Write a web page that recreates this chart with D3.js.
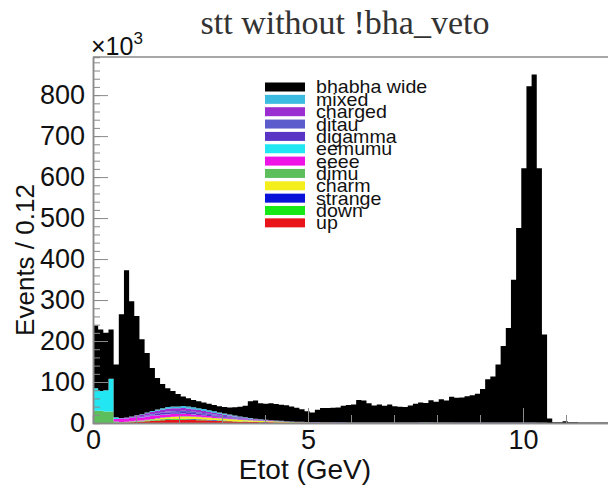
<!DOCTYPE html>
<html>
<head>
<meta charset="utf-8">
<script src="https://cdn.jsdelivr.net/npm/d3@7"></script>
<style>
  body { margin: 0; background: #fff; }
  text { font-family: "Liberation Sans", Arial, sans-serif; }
</style>
</head>
<body>
<div id="vis"></div>
<script>
// Etot histogram, 100 bins of 0.12 GeV from 0 to 12, values in units of 10^3 events
const binWidth = 0.12;
const nBins = 100;

// stacked bottom -> top
const up = [0,0,0,0,0.5,1,1.5,2,2.5,3,4,5,6,7,7.5,8,8,8,8,7.5,7,6.5,6,5.5,5,4.5,4,3.5,3,2.8,2.5,2.2,2,1.8,1.6,1.4,1.2,1,0.9,0.8,0.7,0.6,0.5,0.5,0.4,0.4,0.3,0.3,0.3,0.2];
const down = [0,0,0,0,0,0.2,0.3,0.5,0.7,0.9,1,1.2,1.4,1.5,1.5,1.5,1.5,1.5,1.4,1.3,1.2,1.1,1,0.9,0.8,0.7,0.6,0.5,0.5,0.4,0.4,0.3,0.3,0.3,0.2,0.2,0.2,0.2,0.1];
const strange = [0,0,0,0,0,0,0.1,0.2,0.3,0.4,0.5,0.6,0.7,0.8,0.9,1,1,1,1,1,0.9,0.9,0.8,0.7,0.7,0.6,0.5,0.5,0.4,0.4,0.3,0.3,0.2,0.2,0.2,0.1,0.1,0.1];
const charm = [0,0,0,0,0,0,0.2,0.4,0.7,1,1.5,2,2.5,3,3.5,4,4.5,5,5,5,5,5,4.8,4.6,4.4,4.2,4,3.8,3.5,3.2,3,2.8,2.5,2.2,2,1.8,1.5,1.2,1,0.8,0.6,0.5,0.4,0.3,0.2,0.2,0.1];
const dimu = [30,30,28,28,3,1,1,1,1,1,1,1,1,1,1,1,1,1,1,1,1,0.8,0.8,0.8,0.8,0.7,0.7,0.7,0.6,0.6,0.6,0.5,0.5,0.5,0.5,0.5,0.5,0.5,0.5,0.5,0.5,0.5,0.5,0.5,0.5,0.5,0.5,0.5,0.5,0.5,0.5,0.5,0.5,0.5,0.5,0.5,0.5,0.5,0.5,0.5,0.5,0.5,0.5,0.8,1,0.8,0.5,0.5,0.5,0.5];
const eeee = [0,0,0,0,6,8,8,8,8,8,8,8,7.5,7,7,6.5,6,6,5.5,5,4.5,4,3.5,3,2.5,2,1.8,1.5,1.2,1,0.8,0.6,0.5,0.4,0.3,0.2,0.2,0.1];
const eemumu = [55,48,52,80,4,1,0.5,0.5,0.5,0.5,0.5,0.5,0.5,0.5,0.5,0.5,0.4,0.4,0.3,0.3,0.2,0.2,0.1];
const digamma = [0,0,0,0,0,0,0.3,0.6,1,1.5,2,2.5,3,3.5,4,4,4,4,3.8,3.5,3.2,3,2.7,2.4,2.1,1.8,1.5,1.3,1.1,0.9,
  0.8,0.7,0.6,0.5,0.5,0.5,0.6,0.6,0.7,0.7,0.8,0.8,0.8,0.8,0.8,0.8,0.8,0.8,0.8,0.8,
  0.9,0.9,0.9,0.9,0.9,0.9,0.9,0.9,0.9,0.9,1,1,1,1,1,1,1,1,1,1,
  1,1,1,1,1,1.2,1.2,1.2,1.2,1.2,1.2,1.2,1,1,1,1,0.8,0.5];
const ditau = [0,0,0,0,0,0,0,0.2,0.4,0.6,0.9,1.2,1.5,1.8,2.1,2.4,2.6,2.8,3,3,3,3,2.9,2.8,2.7,2.6,2.4,2.2,2,1.8,1.6,1.4,1.2,1,0.9,0.8,0.7,0.6,0.5,0.4,0.3,0.3,0.2,0.2,0.1];
const charged = [0,0,0,0,0.5,1,1.5,2,3,3.5,4.5,5,6,6.5,7,7,7,7,6.5,6,5.5,5,4.5,4,3.5,3,2.5,2,1.8,1.5,1.2,1,0.8,0.6,0.5,0.4,0.3,0.2,0.1,0.1];
const mixed = [0,0,0,0,0,0,0.2,0.5,0.8,1.2,1.7,2.2,2.8,3.3,3.8,4.2,4.5,4.7,4.8,4.8,4.6,4.4,4.1,3.8,3.4,3,2.6,2.2,1.8,1.4,1.1,0.8,0.6,0.4,0.3,0.2,0.1];
const bhabhaWide = [153,150,140,120,129,253,359,281,242,183,
  145,105,77,59,46,38,30,23,20,18,
  17,16,16,15.5,15,16,17,20,24,28,
  41,44,39,39,41,40,39,39,36.5,34,
  30.5,26,23,30,34.5,34.5,35.5,36.5,40.5,42.5,
  43.5,54.5,53.5,46.5,41.5,43.5,40.5,43.5,39.5,38.5,
  37.5,41.5,45.5,48.5,46.5,53.5,50.5,56.5,53.5,62.5,
  60.5,61.5,64.5,66.5,70.5,81.5,105.5,112.5,141.5,186.5,
  230.5,348.5,474.5,620.5,820.5,849.5,620.5,215.5,11,2,
  2,4,2,2,1.5,1.5,1.5,1,1,1];

const seriesNames = ["up","down","strange","charm","dimu","eeee","eemumu","digamma","ditau","charged","mixed","bhabha wide"];
const seriesValues = [up,down,strange,charm,dimu,eeee,eemumu,digamma,ditau,charged,mixed,bhabhaWide];
const seriesColors = ["#e8141a","#18e818","#0a14d8","#f4ee1c","#5cbf5c","#ee14e6","#22e6f2","#5a34c4","#5c5ccc","#9a2ed0","#3cbce0","#000000"];

const xTicks = [0, 5, 10];
const yTicks = [0,100,200,300,400,500,600,700,800];

const W = 608, H = 496;
const margin = { top: 57, left: 93, right: -1, bottom: 73 };
const width = W - margin.left - margin.right,
      height = H - margin.top - margin.bottom;

const svg = d3.select("#vis")
  .append("svg")
    .attr("width", W)
    .attr("height", H);

const g = svg.append("g")
  .attr("transform", `translate(${margin.left},${margin.top})`);

const x = d3.scaleLinear().domain([0, 12]).range([0, width]);
const y = d3.scaleLinear().domain([0, 893]).range([height, 0]);

// table of bins for the stack
const table = d3.range(nBins).map(i => {
  const row = { lo: i * binWidth, hi: (i + 1) * binWidth };
  seriesNames.forEach((n, k) => { row[n] = seriesValues[k][i] || 0; });
  return row;
});

const stacked = d3.stack().keys(seriesNames)(table);

const area = d3.area()
  .x(p => x(p.x))
  .y0(p => y(p.y0))
  .y1(p => y(p.y1));

g.selectAll("path.layer")
  .data(stacked)
  .join("path")
    .attr("class", "layer")
    .attr("fill", (d, k) => seriesColors[k])
    .attr("d", s => area(s.flatMap(p => [
      { x: p.data.lo, y0: p[0], y1: p[1] },
      { x: p.data.hi, y0: p[0], y1: p[1] }
    ])));

// frame
g.append("line")
  .attr("x1", 0).attr("x2", width)
  .attr("y1", 0).attr("y2", 0)
  .attr("stroke", "#8a8a8a").attr("stroke-width", 1.5);

// y axis: major + minor ticks pointing inward
const yMinor = g.append("g")
  .call(d3.axisLeft(y).tickValues(d3.range(0, 893, 20)).tickSize(-7).tickFormat(""));
const yAxis = g.append("g")
  .call(d3.axisLeft(y).tickValues(yTicks).tickSize(-15).tickSizeOuter(0).tickPadding(8));
yAxis.selectAll("text").style("font-size", "27px").attr("fill", "#111");

// x axis
const xMinor = g.append("g")
  .attr("transform", `translate(0,${height})`)
  .call(d3.axisBottom(x).tickValues(d3.range(0, 12, 1)).tickSize(-8).tickFormat(""));
const xAxis = g.append("g")
  .attr("transform", `translate(0,${height})`)
  .call(d3.axisBottom(x).tickValues(xTicks).tickSize(-15).tickSizeOuter(0).tickPadding(7));
xAxis.selectAll("text").style("font-size", "27px").attr("fill", "#111");

[yMinor, yAxis, xMinor, xAxis].forEach(a => {
  a.selectAll("path.domain").attr("stroke", "#8a8a8a").attr("stroke-width", 1.5);
  a.selectAll(".tick line").attr("stroke", "#8a8a8a");
});

// axis titles
svg.append("text")
  .attr("x", 305)
  .attr("y", 479)
  .attr("text-anchor", "middle")
  .style("font-size", "28px")
  .attr("fill", "#111")
  .text("Etot (GeV)");

svg.append("text")
  .attr("transform", "translate(34,260) rotate(-90)")
  .attr("text-anchor", "middle")
  .style("font-size", "26px")
  .attr("fill", "#111")
  .text("Events / 0.12");

// x10^3 exponent
const expo = svg.append("text")
  .attr("x", 91)
  .attr("y", 55)
  .style("font-size", "25px")
  .attr("fill", "#111");
expo.append("tspan").text("\u00d710");
expo.append("tspan").attr("dy", -11).style("font-size", "17px").text("3");

// title
svg.append("text")
  .attr("x", 345)
  .attr("y", 34)
  .attr("text-anchor", "middle")
  .style("font-family", "'Liberation Serif', 'Times New Roman', serif")
  .style("font-size", "34px")
  .attr("fill", "#333")
  .text("stt without !bha_veto");

// legend, top entry = last stacked series
const legendNames = seriesNames.slice().reverse();
const legendColors = seriesColors.slice().reverse();
const legend = svg.append("g");
legendNames.forEach((n, k) => {
  const cy = 87 + k * 12.35;
  legend.append("rect")
    .attr("x", 265).attr("y", cy - 4.5)
    .attr("width", 40).attr("height", 9)
    .attr("fill", legendColors[k]);
  legend.append("text")
    .attr("transform", `translate(316,${cy}) scale(1.09,1)`)
    .attr("dy", "0.36em")
    .style("font-size", "18px")
    .attr("fill", "#111")
    .text(n);
});
</script>
</body>
</html>
